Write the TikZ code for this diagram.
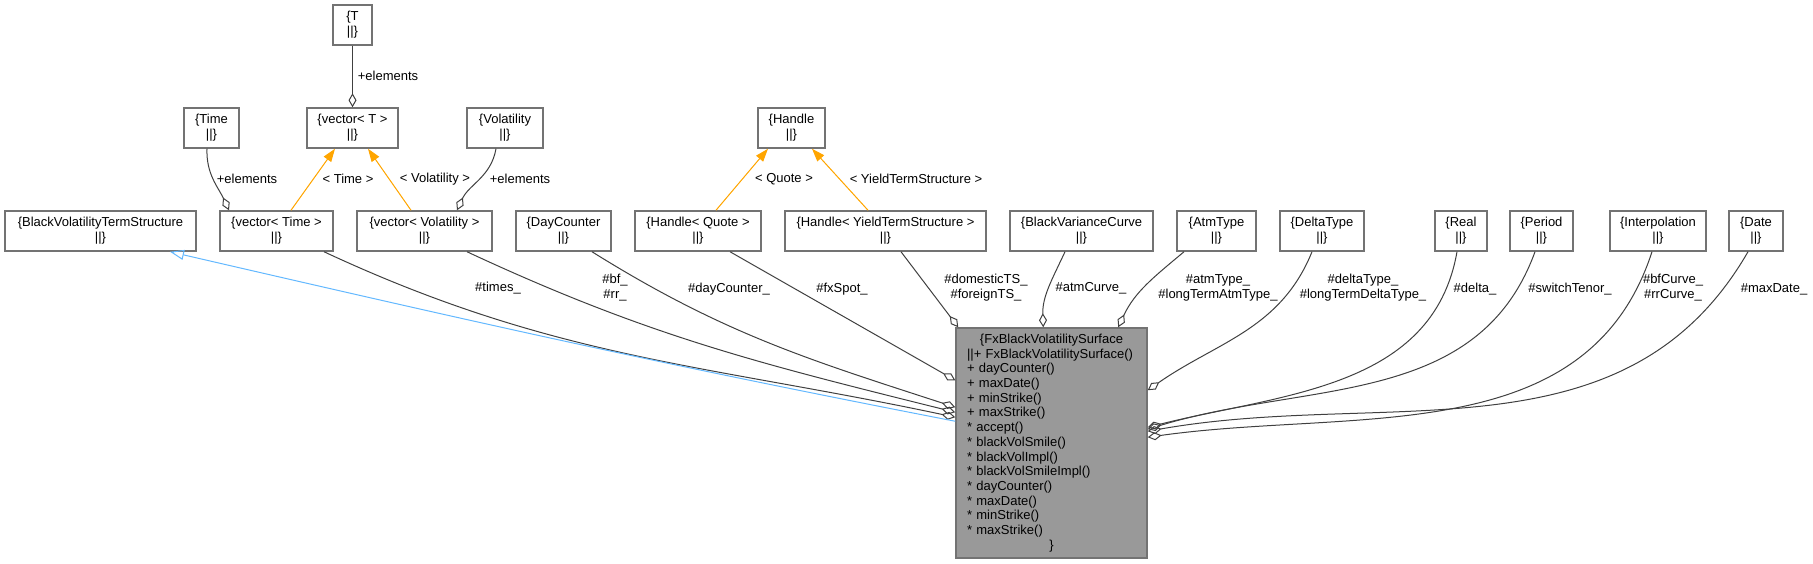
\documentclass[tikz,border=0pt]{standalone}
\usepackage{fontspec}
\setmainfont{Liberation Sans}
\usepackage{tikz}
\usetikzlibrary{arrows.meta}

\definecolor{tmplorange}{HTML}{FFA500}
\definecolor{inhblue}{HTML}{63B8FF}

\begin{document}
\begin{tikzpicture}[
  x=1pt, y=1pt, font=\fontsize{13}{15}\selectfont,
  cls/.style={rectangle, draw=black!55, fill=white, line width=1.5pt,
              align=center, minimum height=40pt, inner sep=2pt},
  main/.style={rectangle, draw=black!55, fill=black!40, line width=1.5pt,
               align=left, text width=169pt, minimum height=230pt,
               inner xsep=11pt, font=\fontsize{13}{14.7}\selectfont},
  lbl/.style={align=center, inner sep=0pt},
  agg/.style={-{Diamond[open, length=14pt, width=8pt]}, draw=black!75, line width=1pt},
  tpl/.style={-{Triangle[length=13pt, width=9pt]}, draw=tmplorange, fill=tmplorange, line width=1pt},
  inh/.style={-{Triangle[open, length=14pt, width=10pt]}, draw=inhblue, line width=1pt}]
  \useasboundingbox (0,0) rectangle (1813,-564);
  % template classes
  \node[cls, minimum width=39pt]  (tt)     at (352.5,-25)  {\{T\\||\}};
  \node[cls, minimum width=55pt]  (time)   at (211.5,-128) {\{Time\\||\}};
  \node[cls, minimum width=91pt]  (vect)   at (352.5,-128) {\{vector< T >\\||\}};
  \node[cls, minimum width=76pt]  (vol)    at (505,-128)   {\{Volatility\\||\}};
  \node[cls, minimum width=67pt]  (handle) at (791.5,-128) {\{Handle\\||\}};
  % member types
  \node[cls, minimum width=191pt] (bvts)   at (100.5,-231)  {\{BlackVolatilityTermStructure\\||\}};
  \node[cls, minimum width=113pt] (vtime)  at (276.5,-231)  {\{vector< Time >\\||\}};
  \node[cls, minimum width=135pt] (vvol)   at (424.5,-231)  {\{vector< Volatility >\\||\}};
  \node[cls, minimum width=95pt]  (dc)     at (563.5,-231)  {\{DayCounter\\||\}};
  \node[cls, minimum width=126pt] (hq)     at (698,-231)    {\{Handle< Quote >\\||\}};
  \node[cls, minimum width=201pt] (hyts)   at (885.5,-231)  {\{Handle< YieldTermStructure >\\||\}};
  \node[cls, minimum width=143pt] (bvc)    at (1081.5,-231) {\{BlackVarianceCurve\\||\}};
  \node[cls, minimum width=79pt]  (atm)    at (1216.5,-231) {\{AtmType\\||\}};
  \node[cls, minimum width=84pt]  (dlt)    at (1322,-231)   {\{DeltaType\\||\}};
  \node[cls, minimum width=52pt]  (real)   at (1461,-231)   {\{Real\\||\}};
  \node[cls, minimum width=63pt]  (per)    at (1541.5,-231) {\{Period\\||\}};
  \node[cls, minimum width=96pt]  (interp) at (1658,-231)   {\{Interpolation\\||\}};
  \node[cls, minimum width=54pt]  (date)   at (1756,-231)   {\{Date\\||\}};
  % the surface itself
  \node[main] (fx) at (1051.5,-443)
      {\hfill\{FxBlackVolatilitySurface\hfill\null\\||+ FxBlackVolatilitySurface()\\
       + dayCounter()\\+ maxDate()\\+ minStrike()\\+ maxStrike()\\{*} accept()\\
       {*} blackVolSmile()\\{*} blackVolImpl()\\{*} blackVolSmileImpl()\\{*} dayCounter()\\
       {*} maxDate()\\{*} minStrike()\\{*} maxStrike()\\\hfill\}\hfill\null};
  % template instances
  \draw[tpl] ([xshift=14.5pt]vtime.north) -- ([xshift=-17.5pt]vect.south);
  \draw[tpl] ([xshift=-13.5pt]vvol.north) -- ([xshift=15.5pt]vect.south);
  \draw[tpl] ([xshift=18pt]hq.north) -- ([xshift=-23.5pt]handle.south);
  \draw[tpl] ([xshift=-17.5pt]hyts.north) -- ([xshift=20.5pt]handle.south);
  % members
  \draw[agg] (tt) -- (vect);
  \draw[agg] ([xshift=-4.5pt]time.south) to[out=-92, in=115] ([xshift=-47.5pt]vtime.north);
  \draw[agg] ([xshift=-9pt]vol.south) to[out=-100, in=65] ([xshift=32.5pt]vvol.north);
  \draw[agg] ([xshift=47.5pt]vtime.south) to[out=-25, in=168] ([yshift=-90pt]fx.north west);
  \draw[agg] ([xshift=42.5pt]vvol.south) to[out=-25, in=166] ([yshift=-85pt]fx.north west);
  \draw[agg] ([xshift=28.5pt]dc.south) to[out=-32, in=162] ([yshift=-80pt]fx.north west);
  \draw[agg] ([xshift=32pt]hq.south) -- ([yshift=-53pt]fx.north west);
  \draw[agg] ([xshift=15.5pt]hyts.south) -- ([xshift=3pt]fx.north west);
  \draw[agg] ([xshift=-16.5pt]bvc.south) to[out=-115, in=92] ([xshift=88pt]fx.north west);
  \draw[agg] ([xshift=-32.5pt]atm.south) to[out=-140, in=65] ([xshift=163pt]fx.north west);
  \draw[agg] ([xshift=-10pt]dlt.south) to[out=-112, in=35] ([yshift=-63pt]fx.north east);
  \draw[agg] ([xshift=-4pt]real.south) to[out=-100, in=14] ([yshift=-100pt]fx.north east);
  \draw[agg] ([xshift=-6.5pt]per.south) to[out=-110, in=17] ([yshift=-102pt]fx.north east);
  \draw[agg] ([xshift=-6pt]interp.south) to[out=-108, in=8] ([yshift=-110pt]fx.north east);
  \draw[agg] ([xshift=-8pt]date.south) to[out=-120, in=10] ([yshift=-104pt]fx.north east);
  % base class
  \draw[inh] ([yshift=-94pt]fx.north west) to[out=169, in=-13] ([xshift=69.5pt]bvts.south);
  % labels
  \node[lbl] (l1)  at (388,-76)   {+elements};
  \node[lbl] (l2)  at (247,-179)  {+elements};
  \node[lbl] (l3)  at (348,-179)  {< Time >};
  \node[lbl] (l4)  at (435,-179)  {< Volatility >};
  \node[lbl] (l5)  at (520,-179)  {+elements};
  \node[lbl] (l6)  at (784,-179)  {< Quote >};
  \node[lbl] (l7)  at (916,-179)  {< YieldTermStructure >};
  \node[lbl] (l8)  at (498,-288)  {\#times\_};
  \node[lbl] (l9)  at (615,-288)  {\#bf\_\\\#rr\_};
  \node[lbl] (l10) at (729,-289)  {\#dayCounter\_};
  \node[lbl] (l11) at (842,-289)  {\#fxSpot\_};
  \node[lbl] (l12) at (986,-288)  {\#domesticTS\_\\\#foreignTS\_};
  \node[lbl] (l13) at (1091,-288) {\#atmCurve\_};
  \node[lbl] (l14) at (1218,-288) {\#atmType\_\\\#longTermAtmType\_};
  \node[lbl] (l15) at (1363,-288) {\#deltaType\_\\\#longTermDeltaType\_};
  \node[lbl] (l16) at (1475,-289) {\#delta\_};
  \node[lbl] (l17) at (1570,-289) {\#switchTenor\_};
  \node[lbl] (l18) at (1673,-288) {\#bfCurve\_\\\#rrCurve\_};
  \node[lbl] (l19) at (1774,-289) {\#maxDate\_};
\end{tikzpicture}
\end{document}
